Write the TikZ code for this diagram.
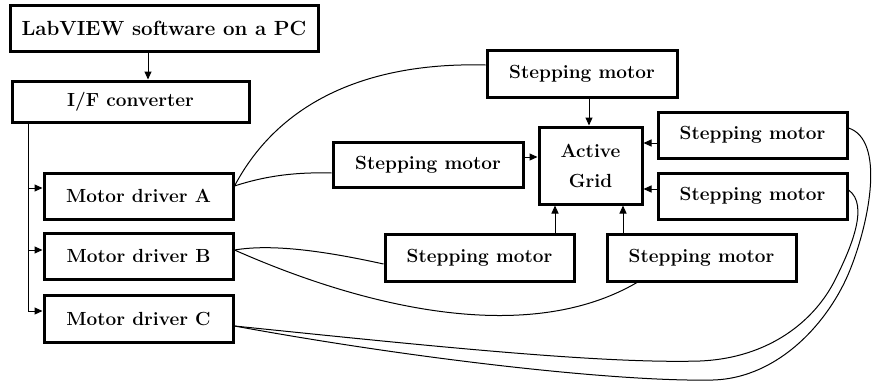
\documentclass[tikz,border=0pt]{standalone}
\usepackage{fontspec}
\usetikzlibrary{arrows.meta}
\begin{document}
\begin{tikzpicture}[x=1pt,y=-1pt,
  box/.style={draw,line width=3pt,rectangle,inner sep=0pt,align=center,
    font=\fontsize{19}{30}\selectfont\bfseries},
  link/.style={line width=1pt},
  arr/.style={line width=1pt,-{Triangle[length=8pt,width=7pt]}},
  wire/.style={line width=1pt}]
\useasboundingbox (0,0) rectangle (875,383);
% left column
\node[box,minimum width=308pt,minimum height=46pt,font=\fontsize{20.5}{30}\selectfont\bfseries] (lab) at (164,28) {LabVIEW software on a PC};
\node[box,minimum width=237pt,minimum height=41pt] (ifc) at (130.5,101.5) {I/F converter};
\node[box,minimum width=189pt,minimum height=46pt] (mda) at (138.5,196) {Motor driver A};
\node[box,minimum width=189pt,minimum height=46pt] (mdb) at (138.5,256) {Motor driver B};
\node[box,minimum width=189pt,minimum height=47pt] (mdc) at (138.5,318.5) {Motor driver C};
% right group
\node[box,minimum width=103pt,minimum height=77pt] (grid) at (590.5,165.5) {Active\\Grid};
\node[box,minimum width=190pt,minimum height=47pt] (smt) at (582,73.5) {Stepping motor};
\node[box,minimum width=190pt,minimum height=45pt] (sml) at (428,164.5) {Stepping motor};
\node[box,minimum width=189pt,minimum height=46pt] (smr1) at (752.5,135) {Stepping motor};
\node[box,minimum width=189pt,minimum height=46pt] (smr2) at (752.5,196) {Stepping motor};
\node[box,minimum width=189pt,minimum height=47pt] (smb1) at (479.5,257.5) {Stepping motor};
\node[box,minimum width=189pt,minimum height=47pt] (smb2) at (701.5,257.5) {Stepping motor};
% coordinates for straight connectors
\coordinate (xa) at (148,0);
\coordinate (xbus) at (28,0);
\coordinate (xg) at (589,0);
\coordinate (xb1) at (555,0);
\coordinate (xb2) at (623,0);
\coordinate (busend) at (28,311);
% left arrows
\draw[arr] (lab.south -| xa) -- (ifc.north -| xa);
\draw[link] (ifc.south -| xbus) -- (busend);
\draw[arr] ([yshift=8pt]mda.west -| xbus) -- ([yshift=8pt]mda.west);
\draw[arr] ([yshift=6pt]mdb.west -| xbus) -- ([yshift=6pt]mdb.west);
\draw[arr] (busend) -- (busend -| mdc.west);
% arrows into grid
\draw[arr] (smt.south -| xg) -- (grid.north -| xg);
\draw[arr] ([yshift=7.5pt]sml.east) -- ([yshift=7.5pt]sml.east -| grid.west);
\draw[arr] ([yshift=-8pt]smr1.west) -- ([yshift=-8pt]smr1.west -| grid.east);
\draw[arr] ([yshift=7pt]smr2.west) -- ([yshift=7pt]smr2.west -| grid.east);
\draw[arr] (smb1.north -| xb1) -- (grid.south -| xb1);
\draw[arr] (smb2.north -| xb2) -- (grid.south -| xb2);
% wires
\draw[wire] ([yshift=10pt]mda.east) .. controls (280,100) and (370,62) .. ([yshift=8.5pt]smt.west);
\draw[wire] ([yshift=10pt]mda.east) .. controls (265,176) and (295,172) .. ([yshift=-8.5pt]sml.west);
\draw[wire] ([yshift=6pt]mdb.east) .. controls (270,244) and (320,250) .. ([yshift=-6.5pt]smb1.west);
\draw[wire] ([yshift=6pt]mdb.east) .. controls (370,310) and (530,345) .. ([xshift=-64.5pt]smb2.south);
\draw[wire] ([yshift=-7.5pt]mdc.east) .. controls (420,345) and (600,364) .. (700,361)
   .. controls (770,358) and (815,320) .. (835,280)
   .. controls (850,250) and (870,205) .. ([yshift=6pt]smr2.east);
\draw[wire] ([yshift=-7.5pt]mdc.east) .. controls (420,360) and (620,382) .. (713,380)
   .. controls (780,378) and (830,320) .. (850,270)
   .. controls (870,220) and (885,140) .. ([yshift=7pt]smr1.east);
\end{tikzpicture}
\end{document}
